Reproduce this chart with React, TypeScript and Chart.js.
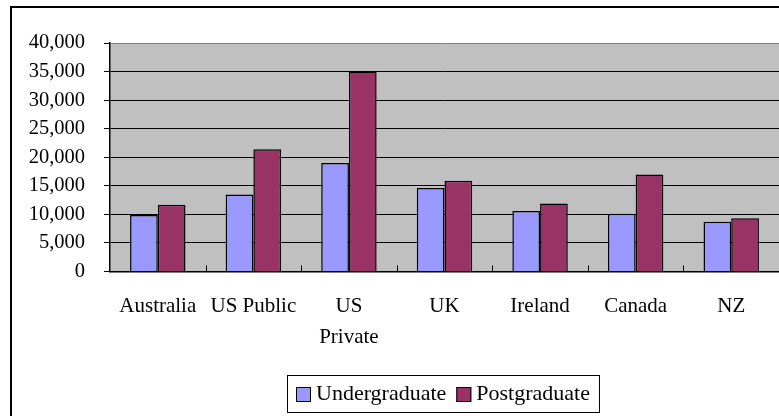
import React, { useEffect, useRef } from "react";
import { Chart, registerables } from "chart.js";

Chart.register(...registerables);

// ---- data ----
const categories: (string | string[])[] = ["Australia", "US Public", ["US", "Private"], "UK", "Ireland", "Canada", "NZ"];
const undergraduate = [9900, 13500, 19000, 14600, 10600, 10100, 8700];
const postgraduate = [11700, 21400, 35000, 15900, 11900, 17000, 9300];
const seriesNames = ["Undergraduate", "Postgraduate"];
const yMin = 0;
const yMax = 40000;
const yStep = 5000;

// ---- styles ----
const UG_COLOR = "#9999FF";
const PG_COLOR = "#993366";
const PLOT_BG = "#C0C0C0";
const FONT = '"Liberation Serif", "Times New Roman", serif';
const W = 779;
const H = 416;

const fmt = new Intl.NumberFormat("en-US");

const backgroundPlugin = {
  id: "bgFrame",
  beforeDraw(chart: any) {
    const { ctx, chartArea } = chart;
    ctx.save();
    ctx.fillStyle = "#FFFFFF";
    ctx.fillRect(0, 0, chart.width, chart.height);
    // outer frame (top & left visible)
    ctx.strokeStyle = "#000000";
    ctx.lineWidth = 2;
    ctx.strokeRect(11, 7, chart.width + 20, chart.height + 20);
    // plot area
    ctx.fillStyle = PLOT_BG;
    ctx.fillRect(chartArea.left, chartArea.top, chartArea.right - chartArea.left, chartArea.bottom - chartArea.top);
    ctx.restore();
  },
};

const xTickPlugin = {
  id: "xInnerTicks",
  afterDatasetsDraw(chart: any) {
    const { ctx, chartArea } = chart;
    const xs = chart.scales.x;
    const n = chart.data.labels.length;
    const half = (xs.getPixelForValue(1) - xs.getPixelForValue(0)) / 2;
    ctx.save();
    ctx.strokeStyle = "#000000";
    ctx.lineWidth = 1;
    for (let i = 1; i < n; i++) {
      const px = Math.round(xs.getPixelForValue(i) - half) + 0.5;
      ctx.beginPath();
      ctx.moveTo(px, chartArea.bottom);
      ctx.lineTo(px, chartArea.bottom - 6);
      ctx.stroke();
    }
    ctx.restore();
  },
};

const legendPlugin = {
  id: "boxLegend",
  afterDraw(chart: any) {
    const { ctx, chartArea } = chart;
    const ds = chart.data.datasets;
    const fontSize = 22;
    const pad = 9;
    const box = 15;
    const gapText = 5;
    const gapItem = 10;
    const top = 375;
    const height = 37;
    ctx.save();
    ctx.font = `${fontSize}px ${FONT}`;
    const widths = ds.map((d: any) => ctx.measureText(d.label).width);
    let total = pad * 2;
    widths.forEach((w: number, i: number) => {
      total += box + gapText + w + (i > 0 ? gapItem : 0);
    });
    const cx = (chartArea.left + chartArea.right) / 2;
    const left = Math.round(cx - total / 2) - 2;
    ctx.fillStyle = "#FFFFFF";
    ctx.fillRect(left, top, total, height);
    ctx.strokeStyle = "#000000";
    ctx.lineWidth = 1;
    ctx.strokeRect(left + 0.5, top + 0.5, total, height);
    let x = left + pad;
    const cy = top + height / 2 + 1;
    ds.forEach((d: any, i: number) => {
      if (i > 0) x += gapItem;
      ctx.fillStyle = d.backgroundColor;
      ctx.fillRect(x, Math.round(cy - box / 2), box, box);
      ctx.strokeStyle = "#000000";
      ctx.strokeRect(x + 0.5, Math.round(cy - box / 2) + 0.5, box - 1, box - 1);
      x += box + gapText;
      ctx.fillStyle = "#000000";
      ctx.textBaseline = "middle";
      ctx.textAlign = "left";
      ctx.fillText(d.label, x, cy);
      x += widths[i];
    });
    ctx.restore();
  },
};

export default function App() {
  const ref = useRef<HTMLCanvasElement | null>(null);

  useEffect(() => {
    if (!ref.current) return;
    const chart = new Chart(ref.current, {
      type: "bar",
      data: {
        labels: categories,
        datasets: [
          {
            label: seriesNames[0],
            data: undergraduate,
            backgroundColor: UG_COLOR,
            borderColor: "#000000",
            borderWidth: 1.5,
            categoryPercentage: 0.58,
            barPercentage: 1,
          },
          {
            label: seriesNames[1],
            data: postgraduate,
            backgroundColor: PG_COLOR,
            borderColor: "#000000",
            borderWidth: 1.5,
            categoryPercentage: 0.58,
            barPercentage: 1,
          },
        ],
      },
      options: {
        responsive: false,
        animation: false,
        devicePixelRatio: 1,
        layout: { padding: { top: 43, left: 0, right: 0, bottom: 0 } },
        plugins: {
          legend: { display: false },
          tooltip: { enabled: false },
          title: { display: false },
        },
        scales: {
          x: {
            grid: { display: true, drawOnChartArea: false, drawTicks: false },
            border: { display: true, color: "#000000", width: 1.5 },
            ticks: {
              color: "#000000",
              font: { family: FONT, size: 21, lineHeight: 1.476 },
              padding: 19,
              maxRotation: 0,
              minRotation: 0,
              autoSkip: false,
            },
            afterFit(scale: any) {
              scale.height = 144.5;
            },
          },
          y: {
            min: yMin,
            max: yMax,
            grid: {
              color: (c: any) => (c.tick && c.tick.value === yMax ? "#808080" : "#000000"),
              lineWidth: 1,
              drawTicks: true,
              tickLength: 6,
              tickColor: "#000000",
            },
            border: { display: true, color: "#000000", width: 1.5 },
            ticks: {
              stepSize: yStep,
              color: "#000000",
              font: { family: FONT, size: 20.5 },
              padding: 19,
              callback: (v: any) => fmt.format(Number(v)),
            },
            afterFit(scale: any) {
              scale.width = 110;
            },
          },
        },
      },
      plugins: [backgroundPlugin, xTickPlugin, legendPlugin],
    });
    return () => chart.destroy();
  }, []);

  return (
    <div style={{ position: "absolute", left: 0, top: 0, width: W, height: H }}>
      <canvas ref={ref} width={W} height={H} style={{ display: "block", width: W, height: H }} />
    </div>
  );
}
